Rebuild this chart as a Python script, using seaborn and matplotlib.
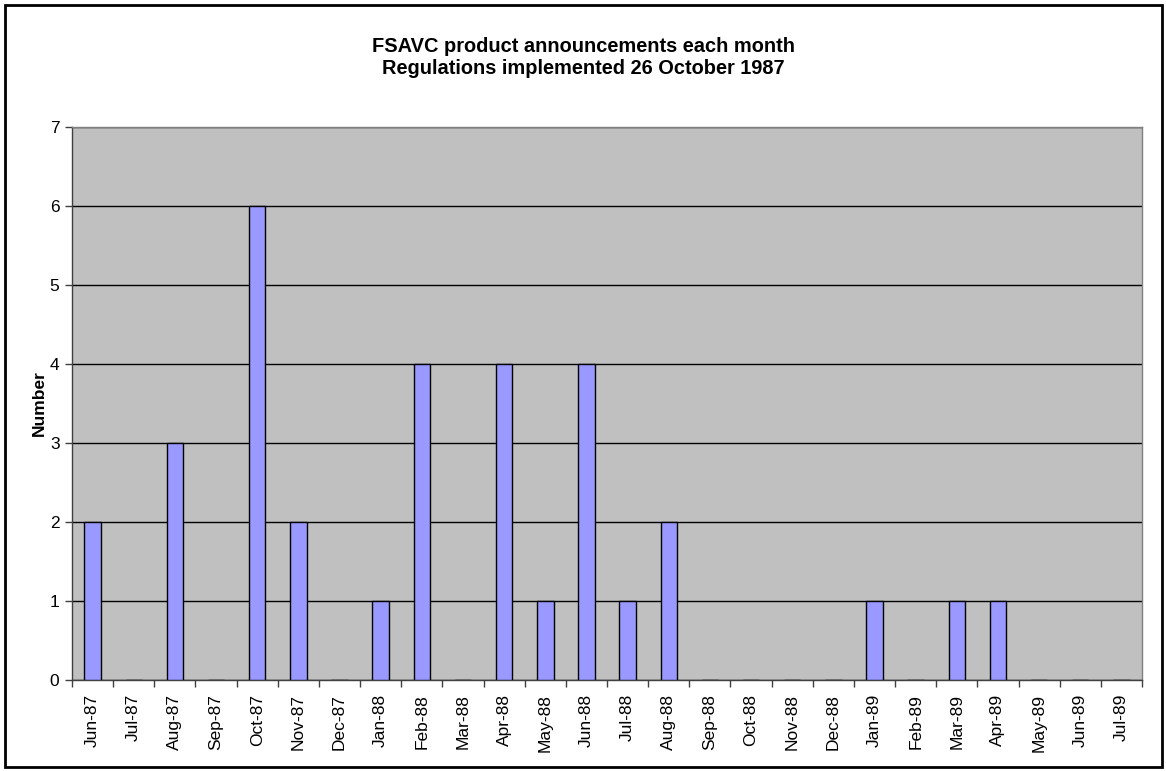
import matplotlib
matplotlib.use("Agg")
import matplotlib.pyplot as plt
from matplotlib.patches import Rectangle
import seaborn as sns
import pandas as pd

months = ["Jun-87", "Jul-87", "Aug-87", "Sep-87", "Oct-87", "Nov-87", "Dec-87",
          "Jan-88", "Feb-88", "Mar-88", "Apr-88", "May-88", "Jun-88", "Jul-88",
          "Aug-88", "Sep-88", "Oct-88", "Nov-88", "Dec-88", "Jan-89", "Feb-89",
          "Mar-89", "Apr-89", "May-89", "Jun-89", "Jul-89"]
announcements = [2, 0, 3, 0, 6, 2, 0, 1, 4, 0, 4, 1, 4, 1, 2, 0, 0, 0, 0, 1, 0,
                 1, 1, 0, 0, 0]
y_ticks = [0, 1, 2, 3, 4, 5, 6, 7]

df = pd.DataFrame({"month": months, "count": announcements})

sns.set_style("white")
plt.rcParams["font.family"] = ["Liberation Sans", "DejaVu Sans"]
plt.rcParams["text.color"] = "black"
plt.rcParams["axes.labelcolor"] = "black"
plt.rcParams["xtick.color"] = "black"
plt.rcParams["ytick.color"] = "black"

W, H = 1166, 771
fig = plt.figure(figsize=(W / 100, H / 100), dpi=100)
ax = fig.add_axes([72 / W, 1 - 680 / H, (1142 - 72) / W, (680 - 127) / H])

ax.set_facecolor("#C0C0C0")
sns.barplot(data=df, x="month", y="count", ax=ax, color="#9999FF",
            width=0.4, edgecolor="black", linewidth=1, saturation=1,
            zorder=3)
for p in ax.patches:
    p.set_facecolor("#9999FF")

ax.set_ylim(0, 7)
ax.set_xlim(-0.5, len(months) - 0.5)
ax.set_yticks(y_ticks)
ax.set_yticklabels([str(t) for t in y_ticks], fontsize=12.5)
ax.yaxis.grid(True, color="black", linewidth=1, zorder=1)
ax.set_axisbelow(True)

# Category ticks sit on the boundaries between months; labels stay centred
ax.set_xticks(range(len(months)))
ax.set_xticklabels(months, rotation=90, fontsize=12.5)
ax.tick_params(axis="x", which="major", bottom=True, length=0, pad=10)
ax.set_xticks([i - 0.5 for i in range(len(months) + 1)], minor=True)
ax.tick_params(axis="x", which="minor", bottom=True, length=5, width=1,
               color="#404040", direction="out")
ax.tick_params(axis="y", left=True, length=5, width=1, color="#404040",
               direction="out", pad=4)

for side in ["top", "right"]:
    ax.spines[side].set_color("#808080")
    ax.spines[side].set_linewidth(1)
for side in ["left", "bottom"]:
    ax.spines[side].set_color("#404040")
    ax.spines[side].set_linewidth(1)

ax.set_xlabel("")
ax.set_ylabel("Number", fontsize=12.5, fontweight="bold", labelpad=2)

fig.text(0.5, 1 - 46 / H, "FSAVC product announcements each month",
         ha="center", va="center", fontsize=14.4, fontweight="bold")
fig.text(0.5, 1 - 68 / H, "Regulations implemented 26 October 1987",
         ha="center", va="center", fontsize=14.4, fontweight="bold")

# Chart border
fig.patches.append(Rectangle((4.5 / W, 4.5 / H), (W - 9) / W, (H - 9) / H,
                             transform=fig.transFigure, fill=False,
                             edgecolor="black", linewidth=2))

fig.savefig("out.png", dpi=100)
